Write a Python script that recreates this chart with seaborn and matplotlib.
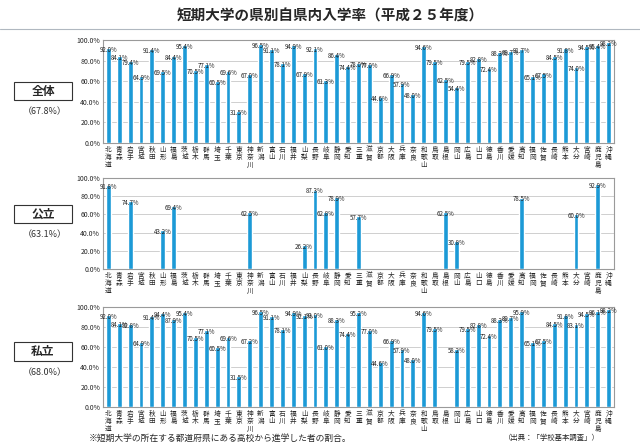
import numpy as np
import pandas as pd
import matplotlib
matplotlib.use("Agg")
import matplotlib.pyplot as plt
from matplotlib.patches import Rectangle
from matplotlib.lines import Line2D
import seaborn as sns

prefs = ['北海道', '青森', '岩手', '宮城', '秋田', '山形', '福島', '茨城', '栃木', '群馬',
         '埼玉', '千葉', '東京', '神奈川', '新潟', '富山', '石川', '福井', '山梨', '長野',
         '岐阜', '静岡', '愛知', '三重', '滋賀', '京都', '大阪', '兵庫', '奈良', '和歌山',
         '鳥取', '島根', '岡山', '広島', '山口', '徳島', '香川', '愛媛', '高知', '福岡',
         '佐賀', '長崎', '熊本', '大分', '宮崎', '鹿児島', '沖縄']

zentai = [92.0, 84.1, 79.4, 64.9, 91.4, 69.5, 84.4, 95.4, 70.5, 77.1,
          60.5, 69.6, 31.5, 67.0, 96.5, 91.1, 78.1, 94.9, 67.9, 92.1,
          61.3, 86.4, 74.4, 78.0, 77.0, 44.6, 66.9, 57.9, 48.0, 94.6,
          79.5, 62.5, 54.4, 79.5, 82.8, 72.4, 88.3, 89.7, 91.7, 65.1,
          67.5, 84.5, 91.8, 74.0, 94.5, 95.4, 98.2]

kouritsu = {'北海道': 91.8, '岩手': 74.7, '山形': 43.2, '福島': 69.4, '神奈川': 62.5,
            '山梨': 26.2, '長野': 87.3, '岐阜': 62.8, '静岡': 78.9, '三重': 57.7,
            '島根': 62.5, '岡山': 30.8, '高知': 78.5, '大分': 60.0, '鹿児島': 92.9}

shiritsu = [92.0, 84.1, 82.8, 64.9, 91.4, 94.4, 87.9, 95.4, 70.5, 77.1,
            60.5, 69.6, 31.5, 67.2, 96.5, 91.1, 78.1, 94.9, 92.1, 93.0,
            61.0, 88.3, 74.4, 95.2, 77.0, 44.6, 66.9, 57.9, 48.0, 94.6,
            79.5, np.nan, 58.2, 79.5, 82.8, 72.4, 88.3, 89.7, 95.9, 65.1,
            67.5, 84.5, 91.8, 83.1, 94.5, 96.1, 98.2]

panel_names = ['全体', '公立', '私立']
panel_avgs = ['（67.8%）', '（63.1%）', '（68.0%）']

df = pd.DataFrame({'pref': prefs, '全体': zentai,
                   '公立': [kouritsu.get(p, np.nan) for p in prefs],
                   '私立': shiritsu})

sns.set_theme(style='white')
plt.rcParams['font.family'] = ['Noto Sans CJK JP', 'DejaVu Sans']

BAR = '#1c9ad6'
fig = plt.figure(figsize=(6.4, 4.48), dpi=100)

W, H = 640, 448
# plot areas in pixel coords: (top, bottom)
areas = [(40, 143), (178, 269), (307, 407)]
boxes = [(82, 100), (205, 223), (342, 361)]
left_px, right_px = 103, 614

for col, (top, bot), (btop, bbot), avg in zip(panel_names, areas, boxes, panel_avgs):
    ax = fig.add_axes([left_px / W, 1 - bot / H, (right_px - left_px) / W, (bot - top) / H])
    sns.barplot(data=df, x='pref', y=col, order=prefs, color=BAR, width=0.45,
                saturation=1, errorbar=None, ax=ax, zorder=3)
    ax.set_xlim(-0.5, len(prefs) - 0.5)
    ax.set_ylim(0, 100)
    ax.set_yticks(np.arange(0, 101, 20))
    ax.set_yticklabels([f'{v:.1f}%' for v in np.arange(0, 101, 20)], fontsize=5)
    ax.set_xticks(range(len(prefs)))
    ax.set_xticklabels(['\n'.join(p) for p in prefs], fontsize=4.8, linespacing=0.92)
    ax.tick_params(axis='both', length=0, pad=2)
    ax.set_xlabel('')
    ax.set_ylabel('')
    ax.grid(axis='y', color='#c8c8c8', linewidth=0.6, zorder=0)
    for s in ax.spines.values():
        s.set_color('#9a9a9a')
        s.set_linewidth(0.8)
    for i, v in enumerate(df[col]):
        if not np.isnan(v):
            ax.text(i, v - 2, f'{v:.1f}%', ha='center', va='center', fontsize=4.4,
                    color='#222222', zorder=5, clip_on=False)

    # label box on the left
    fig.patches.append(Rectangle((14 / W, 1 - bbot / H), 58 / W, (bbot - btop) / H,
                                 transform=fig.transFigure, fill=False,
                                 edgecolor='#333333', linewidth=0.8))
    fig.text(43 / W, 1 - (btop + bbot) / 2 / H, col, ha='center', va='center',
             fontsize=8.5, fontweight='bold')
    fig.text(45 / W, 1 - (bbot + 12) / H, avg, ha='center', va='center', fontsize=6.5,
             color='#333333')

fig.text(330 / W, 1 - 16 / H, '短期大学の県別自県内入学率（平成２５年度）', ha='center',
         va='center', fontsize=10.5, fontweight='bold')
fig.lines.append(Line2D([0, 1], [1 - 29 / H, 1 - 29 / H], transform=fig.transFigure,
                        color='#b0b8c0', linewidth=0.8))
fig.text(89 / W, 1 - 438 / H, '※短期大学の所在する都道府県にある高校から進学した者の割合。',
         ha='left', va='center', fontsize=6.3)
fig.text(600 / W, 1 - 438 / H, '（出典：「学校基本調査」）', ha='right', va='center',
         fontsize=5.3)

fig.savefig('out.png', dpi=100)
plt.close(fig)
